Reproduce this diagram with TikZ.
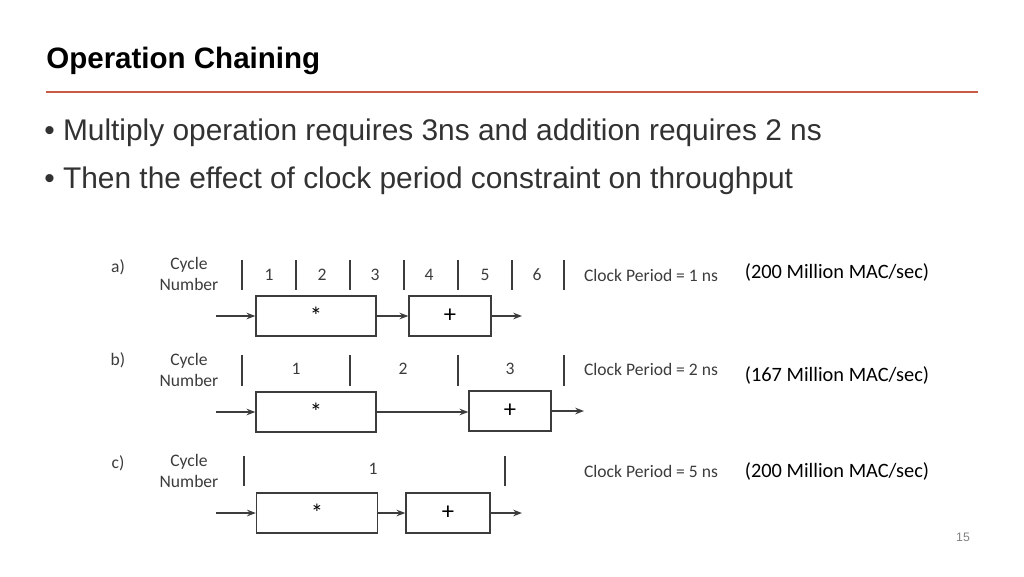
\documentclass[tikz,border=0pt]{standalone}
\usepackage{fontspec}
\setmainfont{Liberation Sans}
\newfontfamily\diagfont{Carlito}
\usetikzlibrary{arrows.meta}
\definecolor{rule}{RGB}{200,90,70}
\definecolor{ink}{RGB}{60,60,60}
\definecolor{body}{RGB}{50,50,50}
\tikzset{
  opbox/.style={draw=ink,thick,minimum height=0.8cm,inner sep=0pt,font=\diagfont\fontsize{14}{14}\selectfont},
  flow/.style={-{Stealth[length=5pt]},ink,thick},
  bar/.style={ink,thick},
  lbl/.style={font=\diagfont\fontsize{10}{11.5}\selectfont,text=ink,align=center,inner sep=0pt},
  rate/.style={font=\diagfont\fontsize{11.6}{13}\selectfont,inner sep=0pt}
}
\begin{document}
\begin{tikzpicture}[x=0.02cm,y=-0.02cm]
  \useasboundingbox (0,0) rectangle (1024,576);
  \node[anchor=west,inner sep=0pt,font=\bfseries\fontsize{16.8}{18}\selectfont] (title) at (46,61) {Operation Chaining};
  \draw[rule,line width=1pt] (46,92) -- (978,92);
  \node[anchor=west,inner sep=0pt,text=body,font=\fontsize{17}{20}\selectfont] (b1) at (44,133) {• Multiply operation requires 3ns and addition requires 2 ns};
  \node[anchor=west,inner sep=0pt,text=body,font=\fontsize{17}{20}\selectfont] (b2) at (44,181) {• Then the effect of clock period constraint on throughput};

  % a)
  \node[lbl] (la) at (118,267) {a)};
  \node[lbl] (cna) at (189,274) {Cycle\\Number};
  \foreach \x in {242,296,350,404,458,512,564} \draw[bar] (\x,260) -- (\x,290);
  \foreach \n/\x in {1/269,2/322,3/375,4/429,5/485,6/537} \node[lbl] at (\x,275) {\n};
  \node[lbl] (cpa) at (651,275) {Clock Period = 1 ns};
  \node[rate] (ra) at (837,272) {(200 Million MAC/sec)};
  \node[opbox,minimum width=2.4cm] (ma) at (316,316) {*};
  \node[opbox,minimum width=1.64cm] (aa) at (450,316) {+};
  \coordinate (ina) at (216,316); \coordinate (outa) at (522,316);
  \draw[flow] (ina) -- (ma); \draw[flow] (ma) -- (aa); \draw[flow] (aa) -- (outa);

  % b)
  \node[lbl] (lb) at (118,360) {b)};
  \node[lbl] (cnb) at (189,370) {Cycle\\Number};
  \foreach \x in {242,350,458,564} \draw[bar] (\x,355) -- (\x,386);
  \foreach \n/\x in {1/296,2/403,3/510} \node[lbl] at (\x,369) {\n};
  \node[lbl] (cpb) at (651,369) {Clock Period = 2 ns};
  \node[rate] (rb) at (837,375) {(167 Million MAC/sec)};
  \node[opbox,minimum width=2.4cm] (mb) at (316,412) {*};
  \node[opbox,minimum width=1.64cm] (ab) at (510,411) {+};
  \coordinate (inb) at (216,412); \coordinate (outb) at (584,411);
  \draw[flow] (inb) -- (mb); \draw[flow] (mb.east) -- (ab.west |- mb.east); \draw[flow] (ab) -- (outb);

  % c)
  \node[lbl] (lc) at (118,463) {c)};
  \node[lbl] (cnc) at (189,471) {Cycle\\Number};
  \foreach \x in {244,505} \draw[bar] (\x,456) -- (\x,486);
  \node[lbl] at (373,469) {1};
  \node[lbl] (cpc) at (651,471) {Clock Period = 5 ns};
  \node[rate] (rc) at (837,471) {(200 Million MAC/sec)};
  \node[opbox,minimum width=2.42cm] (mc) at (317,513) {*};
  \node[opbox,minimum width=1.68cm] (ac) at (448,513) {+};
  \coordinate (inc) at (216,513); \coordinate (outc) at (522,513);
  \draw[flow] (inc) -- (mc); \draw[flow] (mc) -- (ac); \draw[flow] (ac) -- (outc);

  \node[font=\fontsize{7}{8}\selectfont,text=gray] (page) at (963,537) {15};
\end{tikzpicture}
\end{document}
